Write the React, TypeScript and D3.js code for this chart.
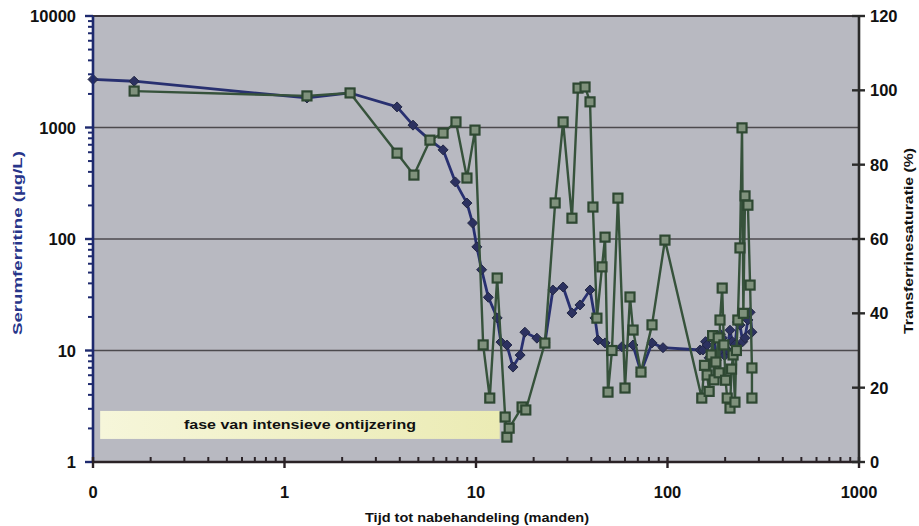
import React from 'react';
import * as d3 from 'd3';

const xTickValues = [0.1, 1, 10, 100, 1000];
const xTickLabels = ['0', '1', '10', '100', '1000'];
const leftTickValues = [1, 10, 100, 1000, 10000];
const leftTickLabels = ['1', '10', '100', '1000', '10000'];
const rightTickValues = [0, 20, 40, 60, 80, 100, 120];

const ferritinMonths = [0.1, 0.164, 1.31, 2.2, 3.87, 4.69, 5.75, 6.73, 7.8, 8.97, 9.6, 10.1, 10.7, 11.6, 12.9, 13.5, 14.5, 15.6, 17.0, 18.0, 20.8, 22.9, 25.2, 28.5, 31.7, 34.9, 39.4, 41.8, 43.4, 47.2, 51.3, 57.8, 66, 72.7, 83, 94.7, 148, 153, 158, 161, 165, 169, 175, 180, 184, 189, 193, 199, 205, 212, 218, 225, 232, 239, 247, 254, 263, 270, 276];
const ferritinValues = [2700, 2600, 1840, 2040, 1530, 1050, 770, 630, 325, 210, 139, 85, 53, 30, 19.6, 11.9, 11.2, 7.1, 9.1, 14.6, 12.9, 11.7, 34.9, 37.1, 21.7, 25.6, 34.9, 19.6, 12.4, 11.7, 10.1, 10.8, 11.2, 6.4, 11.7, 10.6, 10.1, 10.1, 12.0, 11.2, 8.6, 9.1, 12.4, 8.2, 9.7, 14.0, 13.0, 9.0, 10.1, 15.2, 12.0, 11.2, 18.0, 16.9, 12.0, 13.0, 18.8, 22.0, 14.6];

const saturationMonths = [0.164, 1.31, 2.2, 3.87, 4.74, 5.75, 6.73, 7.86, 8.97, 9.88, 10.9, 11.8, 12.9, 14.2, 14.5, 14.9, 17.4, 18.2, 22.9, 25.9, 28.5, 31.7, 34.1, 37.1, 39.4, 40.8, 42.8, 45.5, 47.2, 48.9, 51.3, 55.1, 60.0, 63.7, 66.1, 72.7, 83.0, 97.0, 151, 156, 161, 165, 169, 172, 175, 179, 184, 186, 188, 193, 197, 201, 205, 212, 216, 220, 225, 229, 233, 239, 245, 249, 254, 263, 270, 276, 276];
const saturationValues = [99.8, 98.5, 99.3, 83.1, 77.2, 86.6, 88.5, 91.5, 76.4, 89.3, 31.5, 17.2, 49.5, 12.1, 6.7, 9.1, 14.8, 14.0, 32, 69.7, 91.5, 65.6, 100.6, 100.9, 96.9, 68.6, 38.7, 52.5, 60.5, 18.8, 30, 71.0, 19.9, 44.4, 35.5, 24.2, 36.9, 59.7, 17.2, 26.0, 23.4, 19.0, 28.8, 34.0, 22.1, 26.9, 33.4, 24.0, 38.2, 46.8, 31.5, 22.0, 17.2, 14.5, 25.0, 28.8, 16.1, 30.0, 38.2, 57.6, 89.9, 40.0, 71.6, 69.1, 47.6, 25.3, 17.2];

const phaseLabel = 'fase van intensieve ontijzering';
const phaseMonths = [0.109, 13.3];
const phaseFerritin = [1.61, 2.87];

const leftTitle = 'Serumferritine (µg/L)';
const rightTitle = 'Transferrinesaturatie (%)';
const xTitle = 'Tijd tot nabehandeling (manden)';

const W = 919;
const H = 526;
const L = 93, R = 859, T = 16, B = 462;
const FONT = '"Liberation Sans", Arial, sans-serif';

export default function App() {
  const x = d3.scaleLog().domain([0.1, 1000]).range([L, R]);
  const yL = d3.scaleLog().domain([1, 10000]).range([B, T]);
  const yR = d3.scaleLinear().domain([0, 120]).range([B, T]);

  const ferr = ferritinMonths.map((m, i) => [x(m), yL(ferritinValues[i])] as [number, number]);
  const sat = saturationMonths.map((m, i) => [x(m), yR(saturationValues[i])] as [number, number]);
  const line = d3.line();

  const xMinor: number[] = [];
  [0.1, 1, 10, 100].forEach(d => { for (let k = 2; k <= 9; k++) xMinor.push(d * k); });
  const yMinor: number[] = [];
  [1, 10, 100, 1000].forEach(d => { for (let k = 2; k <= 9; k++) yMinor.push(d * k); });

  const blue = '#283070';
  const greenLine = '#36523b';
  const greenFill = '#7f917c';

  const px0 = x(phaseMonths[0]), px1 = x(phaseMonths[1]);
  const py0 = yL(phaseFerritin[1]), py1 = yL(phaseFerritin[0]);

  return (
    <svg width={W} height={H} style={{ position: 'absolute', left: 0, top: 0, background: '#fff' }} fontFamily={FONT}>
      <defs>
        <linearGradient id="yel" x1="0" x2="1" y1="0" y2="0">
          <stop offset="0" stopColor="#f6f6da" />
          <stop offset="1" stopColor="#ebebb4" />
        </linearGradient>
      </defs>
      <rect x={L} y={T} width={R - L} height={B - T} fill="#b8b9c1" />
      {[10, 100, 1000].map(v => (
        <line key={v} x1={L} x2={R} y1={yL(v)} y2={yL(v)} stroke="#4c4a4e" strokeWidth={1.7} />
      ))}
      <line x1={L} x2={R} y1={T} y2={T} stroke="#3a3438" strokeWidth={1.8} />

      <rect x={px0} y={py0} width={px1 - px0} height={py1 - py0} fill="url(#yel)" />
      <text x={(px0 + px1) / 2} y={(py0 + py1) / 2 + 4.5} textAnchor="middle" fontSize={13} fontWeight="bold" fill="#111" textLength={232} lengthAdjust="spacingAndGlyphs">{phaseLabel}</text>

      <path d={line(ferr) || ''} fill="none" stroke={blue} strokeWidth={2.8} strokeLinejoin="round" />
      {ferr.map(([cx, cy], i) => (
        <path key={'f' + i} d={`M${cx},${cy - 5}L${cx + 5},${cy}L${cx},${cy + 5}L${cx - 5},${cy}Z`} fill="#2c3160" stroke="#232844" strokeWidth={1} />
      ))}

      <path d={line(sat) || ''} fill="none" stroke={greenLine} strokeWidth={2.4} strokeLinejoin="round" />
      {sat.map(([cx, cy], i) => (
        <rect key={'s' + i} x={cx - 4.5} y={cy - 4.5} width={9} height={9} fill={greenFill} stroke="#2e4832" strokeWidth={2.2} />
      ))}

      {/* left axis */}
      <line x1={L} x2={L} y1={T} y2={B} stroke="#1e2a6e" strokeWidth={2.6} />
      {leftTickValues.map(v => (
        <line key={'lt' + v} x1={L - 8} x2={L} y1={yL(v)} y2={yL(v)} stroke="#1e2a6e" strokeWidth={2.4} />
      ))}
      {yMinor.map(v => (
        <line key={'lm' + v} x1={L - 5} x2={L} y1={yL(v)} y2={yL(v)} stroke="#1e2a6e" strokeWidth={2} />
      ))}
      {leftTickValues.map((v, i) => (
        <text key={'ll' + v} x={76} y={yL(v) + 6} textAnchor="end" fontSize={16.5} fontWeight="bold" fill="#111">{leftTickLabels[i]}</text>
      ))}

      {/* bottom axis */}
      <line x1={L} x2={R} y1={B} y2={B} stroke="#2a2226" strokeWidth={2.6} />
      {xTickValues.map(v => (
        <line key={'xt' + v} x1={x(v)} x2={x(v)} y1={B - 5} y2={B + 6} stroke="#2a2226" strokeWidth={2.4} />
      ))}
      {xMinor.map(v => (
        <line key={'xm' + v} x1={x(v)} x2={x(v)} y1={B - 5} y2={B} stroke="#2a2226" strokeWidth={2} />
      ))}
      {xTickValues.map((v, i) => (
        <text key={'xl' + v} x={x(v)} y={498} textAnchor="middle" fontSize={16.5} fontWeight="bold" fill="#111">{xTickLabels[i]}</text>
      ))}

      {/* right axis */}
      <line x1={R} x2={R} y1={T} y2={B} stroke="#2a2a2a" strokeWidth={2.6} />
      {rightTickValues.map(v => (
        <line key={'rt' + v} x1={R - 7} x2={R + 6} y1={yR(v)} y2={yR(v)} stroke="#2a2a2a" strokeWidth={2.4} />
      ))}
      {rightTickValues.map(v => (
        <text key={'rl' + v} x={870} y={yR(v) + 6} textAnchor="start" fontSize={16.5} fontWeight="bold" fill="#111">{v}</text>
      ))}

      {/* titles */}
      <text transform={`translate(22,243) rotate(-90)`} textAnchor="middle" fontSize={13.5} fontWeight="bold" fill="#27358a" textLength={184} lengthAdjust="spacingAndGlyphs">{leftTitle}</text>
      <text transform={`translate(913,241) rotate(-90)`} textAnchor="middle" fontSize={13.5} fontWeight="bold" fill="#111" textLength={186} lengthAdjust="spacingAndGlyphs">{rightTitle}</text>
      <text x={477} y={522} textAnchor="middle" fontSize={12.5} fontWeight="bold" fill="#111" textLength={224} lengthAdjust="spacingAndGlyphs">{xTitle}</text>
    </svg>
  );
}
